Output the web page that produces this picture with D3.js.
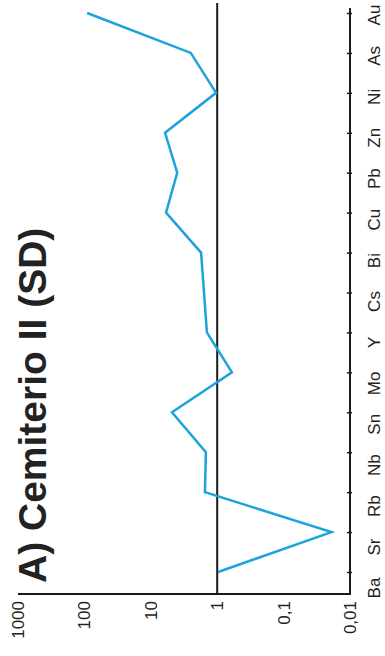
<!DOCTYPE html>

<head>
	<meta charset="utf-8" />
	<style>
		body {
			margin: 0;
			background-color: #fff;
			overflow: hidden;
		}

		text {
			font-family: 'Liberation Sans', Arial, sans-serif;
			fill: #222;
		}
	</style>
</head>

<body>
	<div id="chart-area"></div>

	<script src="https://cdnjs.cloudflare.com/ajax/libs/d3/7.8.5/d3.min.js"></script>

	<script>
		// elements, bottom to top as in the figure
		const elements = ['Ba', 'Sr', 'Rb', 'Nb', 'Sn', 'Mo', 'Y', 'Cs', 'Bi', 'Cu', 'Pb', 'Zn', 'Ni', 'As', 'Au'];
		// normalised values (log scale)
		const values = [0.97, 0.019, 1.53, 1.48, 4.8, 0.6, 1.43, 1.58, 1.75, 5.9, 4.0, 6.1, 1.04, 2.5, 91];
		const tickValues = [1000, 100, 10, 1, 0.1, 0.01];
		const tickLabels = ['1000', '100', '10', '1', '0,1', '0,01'];
		const title = 'A) Cemiterio II (SD)';

		const width = 385,
			height = 656;

		let svg = d3
			.select('#chart-area')
			.append('svg')
			.attr('width', width)
			.attr('height', height);

		// the chart is drawn turned 90 degrees: values run along x, elements along y
		let x = d3.scaleLog().domain([0.01, 1000]).range([350, 18]);
		let y = d3.scalePoint().domain(elements).range([572, 13]);
		// labels sit a bit lower than their ticks toward the bottom
		let yLabel = d3.scalePoint().domain(elements).range([588, 15]);

		let plotTop = 3,
			plotBottom = 594;

		// bottom axis line
		svg.append('line')
			.attr('x1', x(1000))
			.attr('x2', x(0.01))
			.attr('y1', plotBottom)
			.attr('y2', plotBottom)
			.attr('stroke', '#1a1a1a')
			.attr('stroke-width', 2);

		// right axis (elements)
		let yAxis = d3.axisLeft(y).tickSize(5).tickSizeOuter(0).tickFormat('');
		svg.append('g')
			.attr('transform', `translate(${x(0.01) + 2},0)`)
			.call(yAxis)
			.call(g => g.select('.domain').remove())
			.selectAll('line')
			.attr('stroke', '#1a1a1a')
			.attr('stroke-width', 1.5);

		svg.append('line')
			.attr('x1', x(0.01))
			.attr('x2', x(0.01))
			.attr('y1', plotTop + 5)
			.attr('y2', plotBottom + 1)
			.attr('stroke', '#1a1a1a')
			.attr('stroke-width', 2);

		svg.append('g')
			.selectAll('text')
			.data(elements)
			.join('text')
			.attr('transform', d => `translate(380,${yLabel(d)}) rotate(-90)`)
			.attr('text-anchor', 'middle')
			.style('font-size', '17px')
			.text(d => d);

		// reference line at 1
		svg.append('line')
			.attr('x1', x(1))
			.attr('x2', x(1))
			.attr('y1', plotTop)
			.attr('y2', plotBottom)
			.attr('stroke', '#1a1a1a')
			.attr('stroke-width', 2);

		// value tick labels
		svg.append('g')
			.selectAll('text')
			.data(tickValues)
			.join('text')
			.attr('transform', d => `translate(${x(d)},601) rotate(-90)`)
			.attr('text-anchor', 'end')
			.attr('dy', '0.35em')
			.style('font-size', '17px')
			.text((d, i) => tickLabels[i]);

		// data line
		let line = d3
			.line()
			.x((d, i) => x(d))
			.y((d, i) => y(elements[i]));

		svg.append('path')
			.datum(values)
			.attr('d', line)
			.attr('fill', 'none')
			.attr('stroke', '#1ca3de')
			.attr('stroke-width', 2.5)
			.attr('stroke-linejoin', 'miter');

		// title
		svg.append('text')
			.attr('transform', 'translate(46,583) rotate(-90)')
			.style('font-size', '39px')
			.style('font-weight', 'bold')
			.text(title);
	</script>
</body>
